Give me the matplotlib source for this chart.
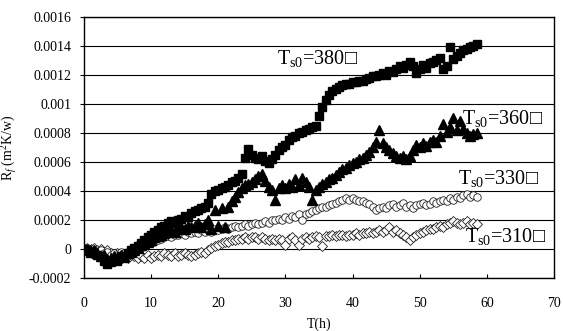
import numpy as np
import matplotlib
matplotlib.use("Agg")
import matplotlib.pyplot as plt

plt.rcParams["font.family"] = ["Liberation Serif", "DejaVu Serif"]
plt.rcParams["mathtext.fontset"] = "custom"
plt.rcParams["mathtext.rm"] = "Liberation Serif"
plt.rcParams["mathtext.it"] = "Liberation Serif:italic"
plt.rcParams["mathtext.fallback"] = "stix"

# time grid [h], one reading every half hour
t = np.arange(0, 58.75, 0.5)

# fouling resistance, in units of 1e-4 m2K/W
rf_380 = [0.0, -0.1, -0.2, -0.3, -0.4, -0.5, -0.8, -1.0, -0.9,
          -0.7, -0.8, -0.5, -0.6, -0.3, -0.1, 0.1, 0.2,
          0.4, 0.6, 0.8, 1.0, 1.2, 1.3, 1.5, 1.6,
          1.8, 1.9, 1.8, 2.0, 2.1, 2.3, 2.2, 2.5,
          2.6, 2.7, 2.8, 2.9, 3.2, 3.8, 4.0, 4.1,
          4.2, 4.3, 4.4, 4.6, 4.7, 4.9, 5.2, 6.3,
          6.9, 6.5, 6.3, 6.2, 6.4, 6.1, 5.9, 6.2,
          6.5, 6.8, 7.0, 7.2, 7.5, 7.7, 7.8, 8.0,
          8.1, 8.2, 8.3, 8.4, 8.5, 9.2, 9.8, 10.3,
          10.6, 10.9, 11.0, 11.2, 11.3, 11.4, 11.4, 11.5,
          11.5, 11.6, 11.6, 11.7, 11.8, 11.9, 11.9, 12.0,
          12.1, 12.0, 12.3, 12.2, 12.4, 12.6, 12.5, 12.7,
          12.9, 12.6, 12.1, 12.4, 12.7, 12.5, 12.8, 12.9,
          13.0, 13.2, 12.4, 12.6, 13.9, 13.1, 13.3, 13.5,
          13.7, 13.8, 13.9, 14.0, 14.1]

rf_360 = [0.0, -0.1, -0.2, -0.1, -0.3, -0.5, -0.4, -0.7, -0.6,
          -0.5, -0.6, -0.4, -0.5, -0.3, -0.2, -0.1, 0.1,
          0.3, 0.4, 0.5, 0.6, 0.8, 0.9, 1.0, 1.1,
          1.2, 1.3, 1.2, 1.4, 1.5, 1.4, 1.6, 1.5,
          1.6, 1.8, 1.5, 1.7, 2.0, 1.4, 2.7, 1.6,
          2.8, 1.5, 2.9, 3.3, 3.6, 3.9, 4.2, 4.4,
          4.5, 4.6, 4.8, 5.0, 5.2, 4.7, 4.3, 4.1,
          3.4, 4.2, 4.4, 4.2, 4.5, 4.3, 4.8, 4.4,
          4.9, 4.6, 4.3, 3.4, 4.1, 4.3, 4.5, 4.6,
          4.8, 4.9, 5.1, 5.3, 5.5, 5.6, 5.8, 5.9,
          6.0, 6.2, 6.3, 6.5, 6.7, 7.0, 7.4, 8.2,
          7.3, 7.0, 6.8, 6.6, 6.4, 6.3, 6.4, 6.2,
          6.4, 6.8, 7.2, 7.0, 7.3, 7.1, 7.4, 7.5,
          7.4, 7.8, 8.6, 8.1, 8.4, 9.0, 8.2, 8.8,
          8.3, 8.0, 7.8, 7.9, 8.0]

rf_330 = [0.0, 0.1, 0.0, -0.1, -0.2, -0.1, -0.3, -0.2, -0.4,
          -0.3, -0.4, -0.2, -0.3, -0.2, -0.1, 0.0, 0.3,
          0.1, 0.3, 0.4, 0.5, 0.5, 0.6, 0.7, 0.8,
          0.9, 0.8, 1.0, 1.0, 1.1, 1.0, 1.2, 1.1,
          1.2, 1.1, 1.3, 1.2, 1.3, 1.2, 1.4, 1.3,
          1.4, 1.5, 1.4, 1.5, 1.6, 1.5, 1.6, 1.7,
          1.6, 1.7, 1.8, 1.7, 1.8, 1.9, 1.8, 2.0,
          2.0, 2.1, 2.0, 2.2, 2.1, 2.3, 2.2, 2.4,
          2.0, 2.4, 2.5, 2.6, 2.7, 2.8, 2.9, 2.9,
          3.0, 3.1, 3.2, 3.3, 3.4, 3.5, 3.4, 3.5,
          3.4, 3.3, 3.3, 3.2, 3.1, 2.9, 2.7, 2.8,
          2.9, 2.8, 3.0, 3.1, 2.9, 3.0, 3.2, 2.9,
          3.0, 2.8, 3.0, 3.1, 3.2, 3.0, 3.1, 3.3,
          3.2, 3.3, 3.4, 3.3, 3.5, 3.4, 3.6, 3.5,
          3.7, 3.8, 3.6, 3.7, 3.6]

rf_310 = [0.0, 0.1, 0.0, 0.1, -0.1, 0.0, -0.2, -0.1, -0.3,
          -0.4, -0.3, -0.5, -0.4, -0.6, -0.4, -0.5, -0.6,
          -0.5, -0.6, -0.4, -0.6, -0.5, -0.4, -0.5, -0.3,
          -0.4, -0.5, -0.3, -0.5, -0.4, -0.3, -0.4, -0.5,
          -0.4, -0.3, -0.2, -0.3, -0.1, 0.1, 0.2, 0.3,
          0.4, 0.5, 0.5, 0.6, 0.6, 0.7, 0.7, 0.8,
          0.7, 0.8, 0.8, 0.7, 0.8, 0.7, 0.6, 0.7,
          0.6, 0.7, 0.6, 0.3, 0.7, 0.8, 0.6, 0.3,
          0.7, 0.8, 0.7, 0.8, 0.9, 0.8, 0.2, 0.9,
          0.9, 1.0, 0.9, 1.0, 1.0, 0.9, 1.0, 1.0,
          1.1, 1.0, 1.1, 1.1, 1.2, 1.1, 1.2, 1.3,
          1.2, 1.3, 1.5, 1.2, 1.3, 1.1, 1.0, 0.8,
          0.6, 0.8, 1.0, 1.1, 1.2, 1.3, 1.4, 1.4,
          1.5, 1.6, 1.5, 1.7, 1.8, 1.9, 1.8, 1.7,
          1.8, 1.9, 1.7, 1.8, 1.7]

labels = ["380", "360", "330", "310"]
label_pos = [(28.7, 12.76), (56.3, 8.62), (55.7, 4.48), (56.7, 0.48)]

fig = plt.figure(figsize=(5.63, 3.31), dpi=100)
ax = fig.add_axes([0.149, 0.160, 0.835, 0.789])

scale = 1e-4
ax.plot(t, np.array(rf_310) * scale, ls="none", marker="D", ms=4.8,
        mfc="white", mec="#222222", mew=0.6)
ax.plot(t, np.array(rf_330) * scale, ls="none", marker="o", ms=5.4,
        mfc="white", mec="#222222", mew=0.6)
ax.plot(t, np.array(rf_360) * scale, ls="none", marker="^", ms=6.5,
        mfc="black", mec="black")
ax.plot(t, np.array(rf_380) * scale, ls="none", marker="s", ms=5.5,
        mfc="black", mec="black")

for lab, (x, y) in zip(labels, label_pos):
    ax.text(x, y * scale, r"T$_{\rm s0}$=" + lab + "\u25a1", fontsize=14.5,
            va="baseline", ha="left")

ax.set_xlim(0, 70)
ax.set_ylim(-0.0002, 0.0016)
ax.set_xticks(np.arange(0, 71, 10))
ax.set_yticks(np.arange(-0.0002, 0.00161, 0.0002))
ax.set_yticklabels(["-0.0002", "0", "0.0002", "0.0004", "0.0006", "0.0008",
                    "0.001", "0.0012", "0.0014", "0.0016"])
ax.yaxis.grid(True, color="black", lw=0.8)
ax.set_axisbelow(True)
ax.tick_params(axis="x", direction="in", length=3, pad=14, labelsize=10)
ax.tick_params(axis="y", direction="out", length=3, pad=6, labelsize=10)
for s in ax.spines.values():
    s.set_linewidth(1.0)
    s.set_color("black")

ax.set_xlabel("T(h)", fontsize=10, labelpad=5)
ax.set_ylabel(r"R$_f$ (m$^2$K/w)", fontsize=10, labelpad=7)

fig.savefig("out.png", dpi=100)
